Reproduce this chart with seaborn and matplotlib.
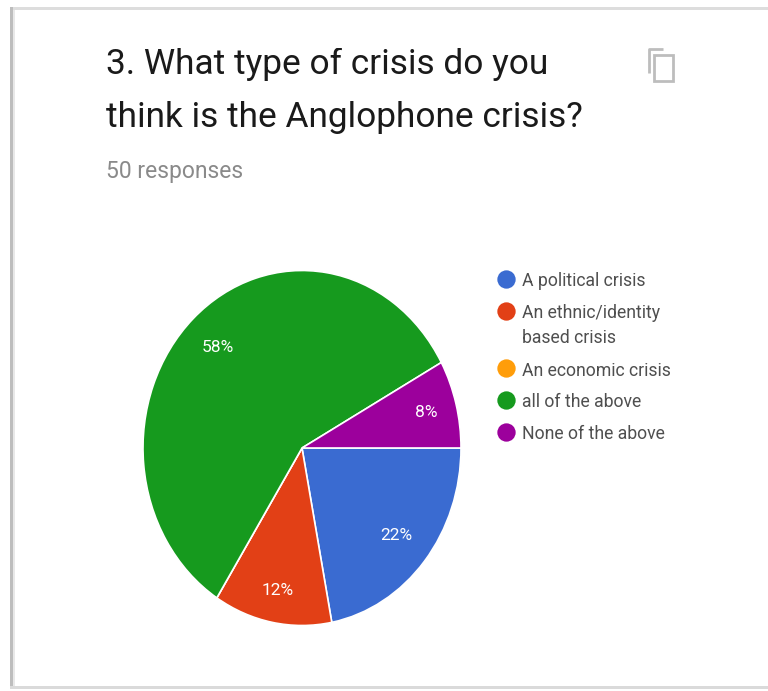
import matplotlib
matplotlib.use("Agg")
import matplotlib.pyplot as plt
import numpy as np
from matplotlib.patches import Rectangle
import seaborn as sns

# Survey answers
categories = ["A political crisis", "An ethnic/identity\nbased crisis",
              "An economic crisis", "all of the above", "None of the above"]
responses = [11, 6, 0, 29, 4]
hex_colors = ["#3A6BD1", "#E24016", "#FF9D0A", "#169A1E", "#9C009C"]
question = ["3. What type of crisis do you", "think is the Anglophone crisis?"]
subtitle = "50 responses"

W, H = 768, 691
sns.set_theme(style="white")
plt.rcParams["font.family"] = ["Roboto", "DejaVu Sans"]
palette = sns.color_palette(hex_colors)

fig = plt.figure(figsize=(W / 100, H / 100), dpi=100, facecolor="white")

# Full-figure layer in pixel units for the card, heading, icon and key
bg = fig.add_axes([0, 0, 1, 1], zorder=0)
bg.set_xlim(0, W)
bg.set_ylim(H, 0)
bg.axis("off")

# Card edges with a soft grey shadow
for rect, col in [
    ((10, 7, 758, 3), "#DDDDDD"),
    ((10, 7, 3, 681), "#BDBDBD"),
    ((13, 10, 2, 676), "#E8E8E8"),
    ((10, 686, 758, 3), "#DADADA"),
]:
    bg.add_patch(Rectangle(rect[:2], rect[2], rect[3], fc=col, ec="none"))

title_size = 25.4
bg.text(106, 74, question[0], fontsize=title_size, color="#1A1A1A", va="baseline")
bg.text(106, 127, question[1], fontsize=title_size, color="#1A1A1A", va="baseline")
# The first heading line is cut off along its top edge
bg.add_patch(Rectangle((60, 11), 550, 37, fc="white", ec="none", zorder=5))
bg.text(106, 178, subtitle, fontsize=16.5, color="#8A8A8A", va="baseline")

# Copy icon
bg.plot([663, 649, 649], [49, 49, 73], color="#BDBDBD", lw=2, solid_capstyle="butt")
bg.add_patch(Rectangle((654, 55), 19, 26, fc="none", ec="#BDBDBD", lw=2))

# Pie is stretched vertically: 318 px wide, 355 px tall
cx, cy, rx, ry = 302, 448, 159, 177.5
ax = fig.add_axes([(cx - rx) / W, 1 - (cy + ry) / H, 2 * rx / W, 2 * ry / H], zorder=1)
wedges, _, autotexts = ax.pie(
    responses,
    colors=palette,
    startangle=0,
    counterclock=False,
    radius=1,
    autopct=lambda p: f"{p:.0f}%" if p > 0 else "",
    pctdistance=0.78,
    wedgeprops=dict(edgecolor="white", linewidth=1.2),
    textprops=dict(color="white", fontsize=12.5),
)
ax.set_aspect("auto")
ax.set_xlim(-1, 1)
ax.set_ylim(-1, 1)

# Small radial adjustment per percentage label
label_radii = [0.77, 0.815, 0.78, 0.777, 0.805]
for wedge, label, r in zip(wedges, autotexts, label_radii):
    mid = np.deg2rad((wedge.theta1 + wedge.theta2) / 2)
    label.set_position((r * np.cos(mid), r * np.sin(mid)))

# Key: swatch centres and text baselines, the two-line entry wraps on its own
swatch_y = [279, 311, 368, 400, 432]
baseline_y = [286, 318, 376, 407, 439]
for name, color, sy, by in zip(categories, palette, swatch_y, baseline_y):
    bg.plot([506], [sy], marker="o", ms=13.2, mfc=color, mec="none", ls="none")
    first, *rest = name.split("\n")
    bg.text(522, by, first, fontsize=12.7, color="#4F4F4F", va="baseline")
    if rest:
        bg.text(522, by + 25, rest[0], fontsize=12.7, color="#4F4F4F", va="baseline")

fig.savefig("out.png", dpi=100)
